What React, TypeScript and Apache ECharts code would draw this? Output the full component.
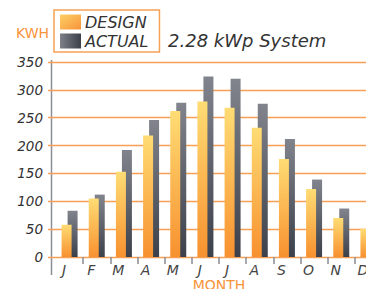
import React, { useEffect, useRef } from "react";
import * as echarts from "echarts";

const months = ["J", "F", "M", "A", "M", "J", "J", "A", "S", "O", "N", "D"];
const designValues = [58, 105, 153, 218, 262, 279, 268, 232, 176, 122, 70, 51];
const actualValues = [83, 112, 192, 246, 277, 324, 320, 275, 212, 139, 87, 68];
const yTicks = { min: 0, max: 350, interval: 50 };

export default function App() {
  const ref = useRef<HTMLDivElement>(null);
  useEffect(() => {
    if (!ref.current) return;
    const chart = echarts.init(ref.current, undefined, { renderer: "svg" });
    const designBar = new echarts.graphic.LinearGradient(0, 0, 0, 1, [
      { offset: 0, color: "#ffdc74" },
      { offset: 1, color: "#f7912f" },
    ]);
    const actualBar = new echarts.graphic.LinearGradient(0, 0, 0, 1, [
      { offset: 0, color: "#81848c" },
      { offset: 1, color: "#3c404a" },
    ]);
    const designIcon = new echarts.graphic.LinearGradient(0, 0, 1, 1, [
      { offset: 0, color: "#fdd066" },
      { offset: 1, color: "#f7943a" },
    ]);
    const actualIcon = new echarts.graphic.LinearGradient(0, 0, 1, 0, [
      { offset: 0, color: "#7d8088" },
      { offset: 1, color: "#3b3f49" },
    ]);
    const font = "'DejaVu Sans', sans-serif";
    chart.setOption({
      animation: false,
      title: {
        text: "2.28 kWp System",
        left: 168,
        top: 31,
        padding: 0,
        textStyle: { fontFamily: font, fontStyle: "italic", fontWeight: "normal", fontSize: 18, color: "#333" },
      },
      legend: {
        orient: "vertical",
        left: 54,
        top: 10,
        padding: [4, 11, 3, 6],
        borderColor: "#f5a257",
        borderWidth: 1.5,
        itemWidth: 21,
        itemHeight: 15,
        itemGap: 3,
        selectedMode: false,
        textStyle: {
          fontFamily: font,
          fontStyle: "italic",
          fontSize: 16,
          lineHeight: 15,
          color: "#333",
          padding: [0, 0, 0, -1],
        },
        data: [
          { name: "DESIGN", icon: "rect", itemStyle: { color: designIcon } },
          { name: "ACTUAL", icon: "rect", itemStyle: { color: actualIcon } },
        ],
      },
      graphic: [
        {
          type: "text",
          left: 16,
          top: 26,
          style: { text: "KWH", fill: "#f7943a", font: `14px ${font}` },
        },
        {
          type: "line",
          shape: { x1: 51.5, y1: 60, x2: 51.5, y2: 275 },
          style: { stroke: "#8a8d94", lineWidth: 1.5 },
        },
      ],
      grid: [
        { left: 56, right: 18, top: 62, bottom: 32, outerBoundsMode: "none", containLabel: false },
        { left: 48, right: 18, top: 62, bottom: 32, outerBoundsMode: "none", containLabel: false },
      ],
      xAxis: [
        {
          type: "category",
          gridIndex: 0,
          data: months,
          axisLine: { show: false },
          axisTick: {
            show: true,
            length: 7,
            interval: (index: number) => index !== 0,
            lineStyle: { color: "#8a8d94", width: 1.5 },
          },
          axisLabel: {
            margin: 6,
            fontFamily: font,
            fontStyle: "italic",
            fontSize: 14,
            color: "#444",
            padding: [0, 11, 0, 0],
            interval: 0,
          },
          name: "MONTH",
          nameLocation: "middle",
          nameGap: 21,
          nameMoveOverlap: false,
          nameTextStyle: { fontFamily: font, fontSize: 14, color: "#f7943a", verticalAlign: "top" },
        },
        { type: "value", gridIndex: 1, show: false, min: 0, max: 1 },
      ],
      yAxis: [
        { type: "value", gridIndex: 0, show: false, ...yTicks },
        {
          type: "value",
          gridIndex: 1,
          ...yTicks,
          axisLine: { show: false },
          axisTick: { show: false },
          axisLabel: { margin: 5, fontFamily: font, fontStyle: "italic", fontSize: 13.5, color: "#333" },
          splitLine: { show: true, lineStyle: { color: "#f5a055", width: 1.3, type: "solid" } },
        },
      ],
      series: [
        {
          name: "DESIGN",
          type: "bar",
          xAxisIndex: 0,
          yAxisIndex: 0,
          data: designValues,
          barWidth: 10,
          barGap: "-40%",
          z: 3,
          itemStyle: { color: designBar },
        },
        {
          name: "ACTUAL",
          type: "bar",
          xAxisIndex: 0,
          yAxisIndex: 0,
          data: actualValues,
          barWidth: 10,
          barGap: "-40%",
          z: 2,
          itemStyle: { color: actualBar },
        },
      ],
    });
    return () => chart.dispose();
  }, []);
  return (
    <div style={{ position: "fixed", left: 0, top: 0, width: 366, height: 289, overflow: "hidden", background: "#fff" }}>
      <div ref={ref} style={{ width: 400, height: 289 }} />
    </div>
  );
}
